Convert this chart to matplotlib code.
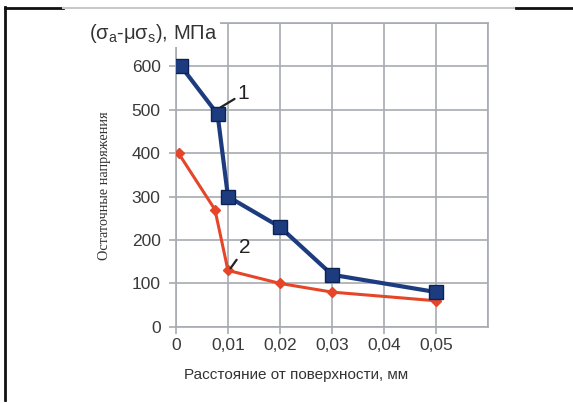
import numpy as np
import matplotlib.pyplot as plt
from matplotlib.lines import Line2D

# Данные
x1 = [0.001, 0.008, 0.010, 0.020, 0.030, 0.050]
y1 = [600, 490, 300, 230, 120, 80]
x2 = [0.0005, 0.0075, 0.010, 0.020, 0.030, 0.050]
y2 = [400, 270, 130, 100, 80, 60]
xticks = [0, 0.01, 0.02, 0.03, 0.04, 0.05]
xticklabels = ['0', '0,01', '0,02', '0,03', '0,04', '0,05']
yticks = [0, 100, 200, 300, 400, 500, 600]

plt.rcParams['font.family'] = ['Liberation Sans', 'DejaVu Sans']
plt.rcParams['mathtext.fontset'] = 'custom'
plt.rcParams['mathtext.rm'] = 'Liberation Sans'

fig = plt.figure(figsize=(5.73, 4.03), dpi=100)
ax = fig.add_axes([0.307, 0.189, 0.545, 0.754])

gris = '#a7abb0'
azul = '#1d3c80'
rojo = '#e5462a'

ax.set_xlim(0, 0.06)
ax.set_ylim(0, 700)
ax.set_xticks(xticks)
ax.set_xticklabels(xticklabels)
ax.set_yticks(yticks)
ax.axvline(0.06, color=gris, lw=1.2, zorder=0)
ax.axhline(700, color=gris, lw=1.2, zorder=0)
ax.grid(True, color=gris, lw=1.2, zorder=0)
for s in ax.spines.values():
    s.set_color(gris)
    s.set_linewidth(1.2)
ax.tick_params(colors=gris, labelcolor='#3a3a3a', labelsize=12.5, length=5,
               width=1.2)
ax.tick_params(axis='y', pad=6)
ax.tick_params(axis='x', pad=3)

ax.plot(x2, y2, '-D', color=rojo, lw=2.2, markersize=5.5,
        markerfacecolor=rojo, markeredgecolor=rojo, zorder=3)
ax.plot(x1, y1, '-s', color=azul, lw=3, markersize=9.5,
        markerfacecolor=azul, markeredgecolor='#0d2252', zorder=4)

# Подписи кривых
ax.annotate('1', xy=(0.0085, 505), xytext=(0.0118, 515), fontsize=15,
            color='#222222', ha='left', va='bottom',
            arrowprops=dict(arrowstyle='-', color='#222222', lw=1.6,
                            shrinkA=0, shrinkB=0))
ax.annotate('2', xy=(0.0105, 135), xytext=(0.0122, 160), fontsize=15,
            color='#222222', ha='left', va='bottom',
            arrowprops=dict(arrowstyle='-', color='#222222', lw=1.6,
                            shrinkA=0, shrinkB=0))

ax.set_xlabel('Расстояние от поверхности, мм', fontsize=11, color='#333333')
ax.xaxis.set_label_coords(0.385, -0.135)

fig.text(0.155, 0.918, r'(σ$_\mathrm{a}$-μσ$_\mathrm{s}$), МПа', fontsize=14.5,
         color='#333333', ha='left', va='center',
         bbox=dict(facecolor='white', edgecolor='none', pad=2))
fig.text(0.183, 0.538, 'Остаточные напряжения', rotation=90,
         family='Liberation Serif', fontsize=10.3, color='#333333',
         ha='center', va='center')

# Рамка
fig.add_artist(Line2D([0.009, 0.009], [0.007, 0.982], color='#111111', lw=2,
                      transform=fig.transFigure))
fig.add_artist(Line2D([0.009, 0.11], [0.98, 0.98], color='#111111', lw=2,
                      transform=fig.transFigure))
fig.add_artist(Line2D([0.11, 0.9], [0.98, 0.98], color='#c8c8c8', lw=1.5,
                      transform=fig.transFigure))
fig.add_artist(Line2D([0.9, 1.0], [0.98, 0.98], color='#111111', lw=2,
                      transform=fig.transFigure))

plt.savefig('out.png', dpi=100, facecolor='white')
